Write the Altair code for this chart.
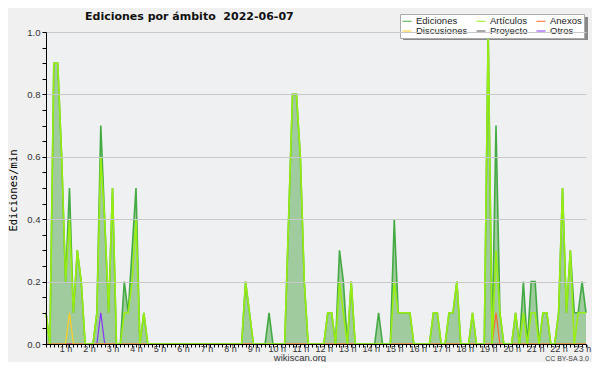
import altair as alt
import pandas as pd

# 10-minute slots from 0:10 to 23:10 (each row: h:10, h:20, h:30, h:40, h:50, h+1:00)
ediciones = [
    0.1, 0.0, 0.9, 0.9, 0.6, 0.2,   # 0
    0.5, 0.1, 0.3, 0.2, 0.0, 0.0,   # 1
    0.0, 0.1, 0.7, 0.4, 0.1, 0.5,   # 2
    0.0, 0.0, 0.2, 0.1, 0.3, 0.5,   # 3
    0.0, 0.1, 0.0, 0.0, 0.0, 0.0,   # 4
    0.0, 0.0, 0.0, 0.0, 0.0, 0.0,   # 5
    0.0, 0.0, 0.0, 0.0, 0.0, 0.0,   # 6
    0.0, 0.0, 0.0, 0.0, 0.0, 0.0,   # 7
    0.0, 0.0, 0.0, 0.2, 0.1, 0.0,   # 8
    0.0, 0.0, 0.0, 0.1, 0.0, 0.0,   # 9
    0.0, 0.0, 0.4, 0.8, 0.8, 0.6,   # 10
    0.2, 0.0, 0.0, 0.0, 0.0, 0.0,   # 11
    0.1, 0.1, 0.0, 0.3, 0.2, 0.0,   # 12
    0.2, 0.0, 0.0, 0.0, 0.0, 0.0,   # 13
    0.0, 0.1, 0.0, 0.0, 0.0, 0.4,   # 14
    0.1, 0.1, 0.1, 0.1, 0.0, 0.0,   # 15
    0.0, 0.0, 0.0, 0.1, 0.1, 0.0,   # 16
    0.0, 0.1, 0.1, 0.2, 0.0, 0.0,   # 17
    0.0, 0.1, 0.0, 0.0, 0.0, 1.0,   # 18
    0.0, 0.7, 0.1, 0.0, 0.0, 0.0,   # 19
    0.1, 0.0, 0.2, 0.0, 0.2, 0.2,   # 20
    0.0, 0.1, 0.1, 0.0, 0.0, 0.1,   # 21
    0.5, 0.1, 0.3, 0.1, 0.1, 0.2,   # 22
    0.1,                            # 23:10
]
articulos = [
    0.1, 0.0, 0.9, 0.9, 0.6, 0.2,
    0.4, 0.1, 0.3, 0.2, 0.0, 0.0,
    0.0, 0.1, 0.6, 0.4, 0.1, 0.5,
    0.0, 0.0, 0.1, 0.1, 0.2, 0.4,
    0.0, 0.1, 0.0, 0.0, 0.0, 0.0,
    0.0, 0.0, 0.0, 0.0, 0.0, 0.0,
    0.0, 0.0, 0.0, 0.0, 0.0, 0.0,
    0.0, 0.0, 0.0, 0.0, 0.0, 0.0,
    0.0, 0.0, 0.0, 0.2, 0.1, 0.0,
    0.0, 0.0, 0.0, 0.0, 0.0, 0.0,
    0.0, 0.0, 0.4, 0.8, 0.8, 0.6,
    0.2, 0.0, 0.0, 0.0, 0.0, 0.0,
    0.1, 0.1, 0.0, 0.2, 0.1, 0.0,
    0.2, 0.0, 0.0, 0.0, 0.0, 0.0,
    0.0, 0.0, 0.0, 0.0, 0.0, 0.2,
    0.1, 0.1, 0.1, 0.1, 0.0, 0.0,
    0.0, 0.0, 0.0, 0.1, 0.1, 0.0,
    0.0, 0.1, 0.1, 0.2, 0.0, 0.0,
    0.0, 0.1, 0.0, 0.0, 0.0, 1.0,
    0.0, 0.3, 0.1, 0.0, 0.0, 0.0,
    0.1, 0.0, 0.1, 0.0, 0.1, 0.1,
    0.0, 0.1, 0.1, 0.0, 0.0, 0.1,
    0.5, 0.1, 0.3, 0.0, 0.1, 0.1,
    0.1,
]
discusiones = [
    0.0, 0.0, 0.0, 0.0, 0.0, 0.0,
    0.1, 0.0, 0.0, 0.0, 0.0, 0.0,
] + [0.0] * 6 * 21 + [0.0]
otros = [
    0.0, 0.0, 0.0, 0.0, 0.0, 0.0,
    0.0, 0.0, 0.0, 0.0, 0.0, 0.0,
    0.0, 0.0, 0.1, 0.0, 0.0, 0.0,
] + [0.0] * 6 * 20 + [0.0]
anexos = [0.0] * 6 * 19 + [
    0.0, 0.1, 0.0, 0.0, 0.0, 0.0,   # 19
] + [0.0] * 6 * 3 + [0.0]
proyecto = [0.0] * 139

series_names = ["Ediciones", "Artículos", "Anexos", "Discusiones", "Proyecto", "Otros"]
series_colors = ["#44aa44", "#99ee11", "#ff6a2a", "#ffcc22", "#555555", "#8833ff"]
series_values = {
    "Ediciones": ediciones, "Artículos": articulos, "Anexos": anexos,
    "Discusiones": discusiones, "Proyecto": proyecto, "Otros": otros,
}
draw_order = ["Proyecto", "Otros", "Anexos", "Discusiones", "Ediciones", "Artículos"]

hours = [(i + 1) / 6 for i in range(139)]
rows = []
for name in series_names:
    for h, v in zip(hours, series_values[name]):
        rows.append({"hora": h, "valor": v, "serie": name})
df = pd.DataFrame(rows)

x_ticks = hours
y_ticks = [k / 20 for k in range(21)]

x_scale = alt.Scale(domain=[1 / 6, 23 + 1 / 6], nice=False, zero=False)
y_scale = alt.Scale(domain=[0, 1], nice=False)

x_axis = alt.Axis(
    values=x_ticks, title=None, grid=False, zindex=1,
    labelExpr="abs(datum.value - round(datum.value)) < 0.01 ? round(datum.value) + ' h' : ''",
    labelOverlap=False, labelFlush=False, labelBound=False,
    tickSize=3, tickColor="#000", domainColor="#000", labelPadding=-3,
    labelFont="Liberation Sans", labelFontSize=9, labelColor="#333",
)
y_axis = alt.Axis(
    values=y_ticks, title="Ediciones/min", zindex=1,
    labelExpr="abs(datum.value * 5 - round(datum.value * 5)) < 0.001 ? format(datum.value, '.1f') : ''",
    labelOverlap=False, labelFlush=False, labelBound=False,
    grid=True, gridColor="#c8c8c8", gridWidth=1,
    gridOpacity={"condition": {"test": "abs(datum.value * 5 - round(datum.value * 5)) < 0.001", "value": 1}, "value": 0},
    tickSize=4, tickColor="#000", domainColor="#000", labelPadding=2,
    labelFont="Liberation Sans", labelFontSize=9.5, labelColor="#333",
    titleFont="DejaVu Sans Mono", titleFontSize=10.5, titleFontWeight="normal", titleColor="#000",
    titleAngle=270, titleX=-32.5, titleY=158, titleAlign="center", titleBaseline="middle",
)

color = alt.Color(
    "serie:N",
    scale=alt.Scale(domain=series_names, range=series_colors),
    legend=alt.Legend(
        orient="none", legendX=354, legendY=-18, columns=3, direction="horizontal",
        title=None, symbolType="stroke", symbolSize=81, symbolStrokeWidth=1,
        labelFont="Liberation Sans", labelFontSize=9.5, labelColor="#222",
        fillColor="#ffffff", strokeColor="#aaaaaa", padding=2,
        rowPadding=0, columnPadding=6, labelOffset=4,
    ),
)

base = alt.Chart(df)

shadow = alt.Chart(pd.DataFrame({"k": [0]})).mark_rect(color="#888888").encode(
    x=alt.value(357), x2=alt.value(542), y=alt.value(-15), y2=alt.value(8)
)

area = base.transform_filter(alt.datum.serie == "Ediciones").mark_area(
    color="#9fcb9f", opacity=1
).encode(
    x=alt.X("hora:Q", scale=x_scale, axis=x_axis),
    y=alt.Y("valor:Q", scale=y_scale, axis=y_axis),
)

lines = []
for name in draw_order:
    width = 1.6 if name in ("Ediciones", "Artículos") else 1.2
    lines.append(
        base.transform_filter(alt.datum.serie == name).mark_line(strokeWidth=width).encode(
            x=alt.X("hora:Q", scale=x_scale, axis=x_axis),
            y=alt.Y("valor:Q", scale=y_scale, axis=y_axis),
            color=color,
        )
    )

texts_df = pd.DataFrame({"k": [0]})
title = alt.Chart(texts_df).mark_text(
    text="Ediciones por ámbito\u00a0\u00a02022-06-07", font="DejaVu Sans", fontWeight="bold",
    fontSize=11, align="left", baseline="alphabetic", color="#111",
).encode(x=alt.value(39), y=alt.value(-12.5))
site = alt.Chart(texts_df).mark_text(
    text="wikiscan.org", font="Liberation Sans", fontSize=9.5, align="center",
    baseline="alphabetic", color="#333",
).encode(x=alt.value(254), y=alt.value(328.5))
lic = alt.Chart(texts_df).mark_text(
    text="CC BY-SA 3.0", font="Liberation Sans", fontSize=7, align="center",
    baseline="alphabetic", color="#444",
).encode(x=alt.value(521), y=alt.value(329))

chart = alt.layer(shadow, area, *lines, title, site, lic).properties(
    width=540, height=312,
    autosize=alt.AutoSizeParams(type="none"),
    padding={"left": 38, "top": 24, "right": 6, "bottom": 18},
    background="#f0f0f0",
).configure_view(fill="#eef0f2", stroke=None)

chart.save("out.html", embed_options={"renderer": "svg", "actions": False})
